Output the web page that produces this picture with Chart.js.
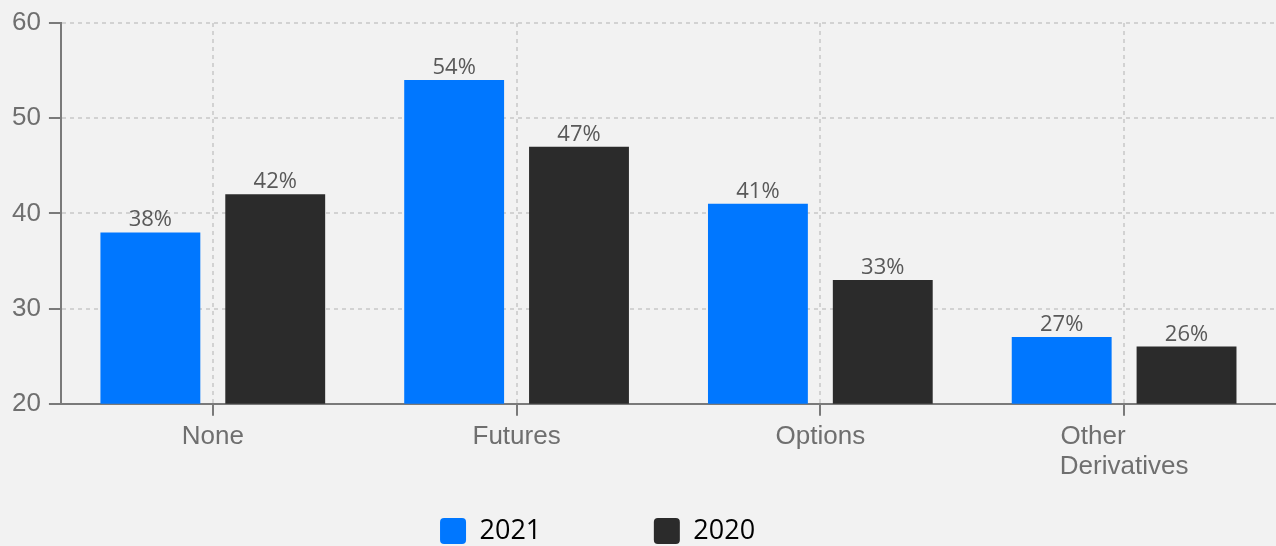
<!DOCTYPE html>
<html>
<head>
<meta charset="utf-8">
<script src="https://cdn.jsdelivr.net/npm/chart.js@4.4.1/dist/chart.umd.min.js"></script>
<style>
  html, body { margin: 0; padding: 0; background: #f2f2f2; }
  #wrap { width: 1276px; height: 546px; position: relative; }
</style>
</head>
<body>
<div id="wrap"><canvas id="c"></canvas></div>
<script>
// ---- data ----
const categories = ['None', 'Futures', 'Options', ['Other', 'Derivatives']];
const seriesNames = ['2021', '2020'];
const values2021 = [38, 54, 41, 27];
const values2020 = [42, 47, 33, 26];
const yTicks = [20, 30, 40, 50, 60];

// ---- styles ----
const colors = ['#0077ff', '#2b2b2b'];
const tickFont = { family: '"Liberation Sans", Arial, sans-serif', size: 26, lineHeight: 1.15 };
const legendFont = { family: '"Open Sans", sans-serif', size: 27 };
const labelFont = '22px "Open Sans", sans-serif';

const measureCtx = document.createElement('canvas').getContext('2d');
function fontStr(f) { return f.size + 'px ' + f.family; }
function padTo(text, font, target) {
  measureCtx.font = font;
  let s = text;
  while (measureCtx.measureText(s + ' ').width <= target) s += ' ';
  while (measureCtx.measureText(s + '\u200A').width <= target) s += '\u200A';
  return s;
}
// left-align the lines of a multi-line label by padding shorter lines
function alignLines(lines) {
  if (!Array.isArray(lines)) return lines;
  measureCtx.font = fontStr(tickFont);
  const maxW = Math.max(...lines.map(l => measureCtx.measureText(l).width));
  return lines.map(l => padTo(l, fontStr(tickFont), maxW));
}
const legendTextWidths = [145.5, 149.5];

const dataLabels = {
  id: 'dataLabels',
  afterDatasetsDraw(chart) {
    const ctx = chart.ctx;
    ctx.save();
    ctx.font = labelFont;
    ctx.fillStyle = '#595959';
    ctx.textAlign = 'center';
    ctx.textBaseline = 'alphabetic';
    chart.data.datasets.forEach((ds, di) => {
      const meta = chart.getDatasetMeta(di);
      meta.data.forEach((el, i) => {
        ctx.fillText(ds.data[i] + '%', el.x, el.y - 6);
      });
    });
    ctx.restore();
  }
};

new Chart(document.getElementById('c'), {
  type: 'bar',
  data: {
    labels: categories,
    datasets: [
      { label: seriesNames[0], data: values2021, backgroundColor: colors[0], borderWidth: 0 },
      { label: seriesNames[1], data: values2020, backgroundColor: colors[1], borderWidth: 0 }
    ]
  },
  options: {
    responsive: true,
    maintainAspectRatio: false,
    animation: false,
    datasets: { bar: { categoryPercentage: 0.822, barPercentage: 0.8 } },
    layout: { padding: { top: 23, left: 4, right: -2, bottom: -8.5 } },
    scales: {
      x: {
        offset: true,
        grid: {
          offset: false,
          color: '#d2d2d2',
          lineWidth: 2,
          tickLength: 12,
          tickColor: '#7a7a7a',
          tickWidth: 2,
          tickBorderDash: []
        },
        border: { display: true, color: '#7a7a7a', width: 2, dash: [4, 4] },
        ticks: {
          font: tickFont,
          color: '#6f6f6f',
          padding: 6,
          maxRotation: 0,
          autoSkip: false,
          callback: function(v, i) { return alignLines(categories[i]); }
        }
      },
      y: {
        min: yTicks[0],
        max: yTicks[yTicks.length - 1],
        afterBuildTicks: (axis) => { axis.ticks = yTicks.map(v => ({ value: v })); },
        grid: {
          color: '#d2d2d2',
          lineWidth: 2,
          tickLength: 12,
          tickColor: '#7a7a7a',
          tickWidth: 2,
          tickBorderDash: []
        },
        border: { display: true, color: '#7a7a7a', width: 2, dash: [4, 4] },
        ticks: { font: tickFont, color: '#6f6f6f', padding: 8 }
      }
    },
    plugins: {
      tooltip: { enabled: false },
      legend: {
        position: 'bottom',
        labels: {
          font: legendFont,
          color: '#333333',
          boxWidth: 26,
          boxHeight: 26,
          padding: 30,
          generateLabels: (chart) => chart.data.datasets.map((ds, i) => ({
            text: padTo(ds.label, fontStr(legendFont), legendTextWidths[i]),
            fillStyle: ds.backgroundColor,
            strokeStyle: ds.backgroundColor,
            lineWidth: 0,
            borderRadius: 4,
            hidden: false,
            datasetIndex: i
          }))
        }
      }
    }
  },
  plugins: [dataLabels]
});
</script>
</body>
</html>
